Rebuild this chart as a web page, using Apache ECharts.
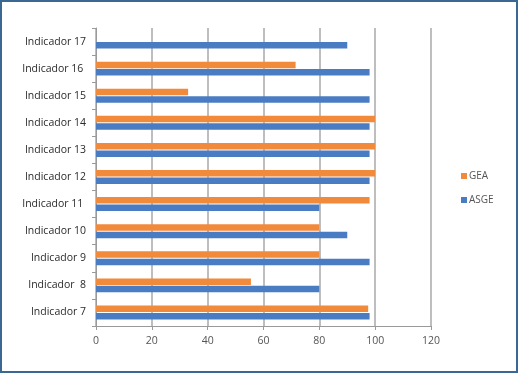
<!DOCTYPE html>
<html>
<head>
<meta charset="utf-8">
<script src="https://cdn.jsdelivr.net/npm/echarts@6/dist/echarts.min.js"></script>
<style>
  html, body { margin: 0; padding: 0; background: #fff; }
  #frame {
    width: 518px;
    height: 373px;
    box-sizing: border-box;
    border: 2px solid #3b6794;
    background: #fff;
  }
  #chart { width: 514px; height: 369px; }
</style>
</head>
<body>
<div id="frame"><div id="chart"></div></div>
<script>
// categorias (de abajo hacia arriba)
const categories = ['Indicador 7', 'Indicador  8', 'Indicador 9', 'Indicador 10', 'Indicador 11 ',
  'Indicador 12', 'Indicador 13', 'Indicador 14', 'Indicador 15', 'Indicador 16 ', 'Indicador 17']
const gea = [97.5, 55.5, 80, 80, 98, 100, 100, 100, 33, 71.5, null]
const asge = [98, 80, 98, 90, 80, 98, 98, 98, 98, 98, 90]
const xTicks = [0, 20, 40, 60, 80, 100, 120]

const chart = echarts.init(document.getElementById('chart'))

const textFont = '"Open Sans", "Liberation Sans", sans-serif'

const option = {
  animation: false,
  textStyle: { fontFamily: textFont },
  grid: {
    left: 94,
    right: 85,
    top: 26,
    bottom: 45
  },
  legend: {
    orient: 'vertical',
    left: 454,
    top: 164,
    itemWidth: 6,
    itemHeight: 6,
    itemGap: 14,
    icon: 'rect',
    data: ['GEA', 'ASGE'],
    textStyle: { fontSize: 10, color: '#555', padding: [0, 0, 0, -3] }
  },
  xAxis: {
    type: 'value',
    min: xTicks[0],
    max: xTicks[xTicks.length - 1],
    interval: 20,
    axisLine: { show: true, lineStyle: { color: '#9a9a9a', width: 1 } },
    axisTick: { show: true, length: 4, lineStyle: { color: '#9a9a9a' } },
    axisLabel: { fontSize: 10.5, color: '#555', margin: 10 },
    splitLine: { show: true, lineStyle: { color: '#a8a8a8', width: 1.5 } }
  },
  yAxis: {
    type: 'category',
    data: categories,
    axisLine: { show: true, lineStyle: { color: '#9a9a9a', width: 1 } },
    axisTick: { show: true, length: 4, lineStyle: { color: '#9a9a9a' } },
    axisLabel: { fontSize: 10.5, color: '#2a2a2a', margin: 10 }
  },
  series: [
    {
      name: 'GEA',
      type: 'bar',
      data: gea,
      barWidth: 6.5,
      barGap: '15%',
      itemStyle: { color: '#f28a3c' }
    },
    {
      name: 'ASGE',
      type: 'bar',
      data: asge,
      barWidth: 6.5,
      barGap: '15%',
      itemStyle: { color: '#4a7cc4' }
    }
  ]
}

chart.setOption(option)
</script>
</body>
</html>
